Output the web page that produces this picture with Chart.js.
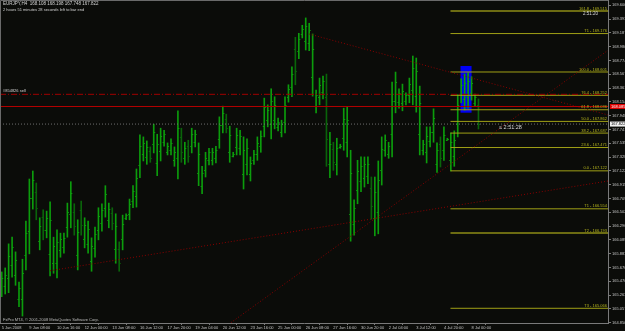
<!DOCTYPE html>
<html lang="en">
<head>
<meta charset="UTF-8">
<title>EURJPY,H4</title>
<script src="https://cdn.jsdelivr.net/npm/chart.js"></script>
<style>
  html, body { margin: 0; padding: 0; background: #0b0c09; }
  canvas { display: block; }
</style>
</head>
<body>
<canvas id="chart" width="625" height="331"></canvas>
<script>
  // EURJPY H4 bars
  const opens = [
    165.35, 165.40, 165.52, 165.71, 165.56, 165.20, 165.21, 165.86, 166.22, 166.72,
    166.80, 166.08, 166.43, 166.24, 165.88, 165.75, 165.74, 165.94, 165.98, 166.28,
    166.48, 166.51, 165.86, 166.54, 166.10, 166.03, 165.77, 165.97, 166.23, 166.34,
    166.57, 166.38, 166.49, 165.96, 165.95, 166.10, 166.42, 166.48, 166.67, 166.75,
    167.21, 167.38, 167.33, 167.42, 167.52, 167.24, 167.42, 167.56, 167.41, 167.43,
    167.28, 167.31, 167.63, 167.32, 167.50, 167.50, 167.56, 167.09, 166.90, 167.14,
    167.29, 167.28, 167.32, 167.60, 167.81, 167.90, 167.41, 167.35, 167.48, 167.47,
    167.08, 167.22, 167.08, 167.28, 167.38, 167.50, 167.80, 167.88, 167.82, 167.89,
    167.78, 167.70, 167.85, 168.23, 168.37, 168.94, 168.91, 169.17, 169.07, 169.04,
    168.52, 168.09, 168.23, 168.30, 168.23, 167.22, 167.45, 167.22, 167.48, 167.62,
    167.56, 166.48, 166.32, 166.83, 166.97, 167.02, 167.05, 166.87, 166.41, 166.51,
    167.13, 167.44, 167.38, 167.67, 168.17, 168.15, 168.14, 168.16, 168.25, 168.33,
    168.24, 167.67, 167.43, 167.40, 167.57, 167.70, 167.23, 167.52, 167.43, 167.59,
    167.29, 167.35, 167.82, 168.25, 168.19, 168.22, 168.29, 168.14, 168.108
  ];
  const highs = [
    165.61, 165.67, 166.03, 166.13, 165.91, 165.46, 165.80, 166.37, 167.00, 167.12,
    166.94, 166.42, 166.54, 166.52, 166.66, 166.13, 166.24, 166.19, 166.19, 166.64,
    166.96, 166.63, 166.39, 166.67, 166.42, 166.37, 166.12, 166.28, 166.57, 166.63,
    166.90, 166.64, 166.57, 166.48, 166.06, 166.46, 166.48, 166.70, 166.90, 167.15,
    167.66, 167.63, 167.57, 167.48, 167.82, 167.67, 167.76, 167.73, 167.54, 167.60,
    167.48, 168.02, 167.76, 167.55, 167.58, 167.76, 167.73, 167.54, 167.19, 167.40,
    167.46, 167.46, 167.49, 167.93, 168.09, 167.97, 167.79, 167.40, 167.76, 167.73,
    167.63, 167.60, 167.33, 167.43, 167.63, 167.72, 168.21, 168.11, 168.35, 168.23,
    167.91, 167.88, 168.23, 168.41, 168.68, 169.12, 169.18, 169.30, 169.41, 169.33,
    169.17, 168.33, 168.51, 168.54, 168.57, 167.70, 167.55, 167.61, 167.52, 168.06,
    168.08, 167.43, 166.69, 167.28, 167.33, 167.33, 167.33, 167.03, 167.03, 167.27,
    167.63, 167.66, 167.55, 168.45, 168.60, 168.35, 168.42, 168.29, 168.51, 168.84,
    168.81, 168.39, 167.58, 167.78, 167.78, 168.05, 167.54, 167.63, 167.78, 167.61,
    167.69, 167.72, 168.26, 168.50, 168.57, 168.59, 168.53, 168.27, 168.198
  ];
  const lows = [
    165.24, 165.28, 165.30, 165.53, 165.41, 165.09, 164.95, 165.64, 165.88, 166.55,
    166.39, 165.94, 166.09, 166.12, 165.55, 165.59, 165.52, 165.83, 165.89, 166.13,
    166.27, 166.16, 165.64, 166.16, 165.97, 165.89, 165.62, 165.83, 166.09, 166.22,
    166.43, 166.27, 166.24, 165.74, 165.62, 165.94, 166.39, 166.39, 166.57, 166.58,
    167.02, 167.27, 167.22, 167.25, 167.39, 167.05, 167.27, 167.49, 167.36, 167.36,
    167.19, 167.00, 167.25, 167.22, 167.25, 167.39, 167.48, 166.90, 166.78, 167.03,
    167.21, 167.21, 167.24, 167.46, 167.69, 167.69, 167.25, 167.33, 167.36, 167.36,
    166.85, 167.06, 166.97, 167.22, 167.28, 167.40, 167.63, 167.78, 167.60, 167.75,
    167.72, 167.63, 167.69, 168.15, 168.23, 168.41, 168.80, 169.11, 168.93, 168.92,
    168.24, 167.99, 168.11, 168.20, 167.19, 167.02, 167.13, 167.06, 167.46, 167.43,
    167.33, 166.07, 166.16, 166.63, 166.81, 166.88, 166.93, 166.40, 166.15, 166.18,
    166.91, 167.34, 167.31, 167.33, 167.99, 168.06, 168.02, 168.11, 168.14, 168.11,
    168.00, 167.36, 167.36, 167.24, 167.48, 167.55, 167.10, 167.18, 167.28, 167.58,
    167.12, 167.19, 167.63, 168.14, 168.03, 168.06, 168.18, 168.09, 167.748
  ];
  const closes = [
    165.52, 165.57, 165.85, 165.98, 165.79, 165.37, 165.59, 166.19, 166.72, 166.98,
    166.56, 166.30, 166.23, 166.42, 166.38, 166.00, 166.06, 166.10, 166.12, 166.51,
    166.79, 166.30, 166.20, 166.31, 166.31, 166.25, 166.00, 166.17, 166.45, 166.53,
    166.78, 166.55, 166.34, 166.30, 165.75, 166.33, 166.46, 166.62, 166.82, 167.01,
    167.50, 167.54, 167.48, 167.32, 167.71, 167.52, 167.64, 167.67, 167.50, 167.54,
    167.41, 167.77, 167.40, 167.47, 167.35, 167.67, 167.67, 167.38, 167.09, 167.31,
    167.40, 167.40, 167.43, 167.81, 167.99, 167.77, 167.66, 167.38, 167.66, 167.64,
    167.44, 167.47, 167.24, 167.38, 167.54, 167.64, 168.07, 168.03, 168.16, 168.11,
    167.86, 167.82, 168.10, 168.35, 168.57, 168.62, 169.09, 169.25, 169.29, 169.23,
    168.94, 168.25, 168.41, 168.46, 167.60, 167.53, 167.26, 167.47, 167.50, 167.90,
    167.89, 167.09, 166.56, 167.12, 167.20, 167.22, 167.23, 166.59, 166.81, 166.99,
    167.45, 167.58, 167.49, 168.17, 168.45, 168.28, 168.32, 168.25, 168.42, 168.66,
    168.61, 168.13, 167.53, 167.65, 167.71, 167.92, 167.43, 167.32, 167.66, 167.60,
    167.55, 167.59, 168.10, 168.41, 168.44, 168.46, 168.44, 168.23, 167.822
  ];

  const timeTickIndex = [0, 8, 16, 24, 32, 40, 48, 56, 64, 72, 80, 88, 96, 104, 112, 120, 128, 136];
  const timeTickLabels = [
    "5 Jun 2008", "9 Jun 08:00", "10 Jun 16:00", "12 Jun 00:00", "13 Jun 08:00", "16 Jun 12:00",
    "17 Jun 20:00", "19 Jun 04:00", "20 Jun 12:00", "23 Jun 16:00", "25 Jun 00:00", "26 Jun 08:00",
    "27 Jun 16:00", "30 Jun 20:00", "2 Jul 04:00", "3 Jul 12:00", "4 Jul 20:00", "8 Jul 00:00"
  ];
  const priceTicks = [
    164.850, 165.057, 165.263, 165.470, 165.676, 165.883, 166.089, 166.296, 166.502, 166.709,
    166.915, 167.122, 167.328, 167.535, 167.741, 167.948, 168.154, 168.361, 168.567, 168.774,
    168.980, 169.187, 169.393, 169.600
  ];

  // Fibonacci expansion drawn from bar 130 to the right edge
  const fibNames = ["161.8", "T1", "100.0", "76.4", "61.8", "50.0", "38.2", "23.6", "0.0", "T1", "T2", "T3"];
  const fibLevels = [169.515, 169.176, 168.601, 168.252, 168.036, 167.862, 167.687, 167.471, 167.122, 166.554, 166.193, 165.066];
  const fibStart = 129.9;

  // trend lines: [startBar, startPrice, endBar, endPrice]
  const trendUpper = [89, 169.169, 175.5, 167.958];
  const trendLower = [14, 165.628, 175.5, 166.970];
  const trendSteep = [60, 164.614, 175.5, 168.926];

  const redLevel = 168.085;
  const orderLevel = 168.267;
  const bidPrice = 167.822;

  // blue box: bars and prices
  const boxBars = [132.8, 136.0];
  const boxPrices = [167.992, 168.691];

  const X_MIN = -0.5, X_MAX = 175.5;
  const FONT = "'Liberation Sans', Arial, sans-serif";
  const UP = '#0c9c0c', DOWN = '#0a640a';

  function hline(level, color, dash, width) {
    return {
      type: 'line',
      data: [{x: X_MIN, y: level}, {x: X_MAX, y: level}],
      borderColor: color, borderWidth: width || 1, borderDash: dash || [],
      pointRadius: 0, fill: false, order: 1
    };
  }
  function seg(t, color) {
    return {
      type: 'line',
      data: [{x: t[0], y: t[1]}, {x: t[2], y: t[3]}],
      borderColor: color, borderWidth: 1, borderDash: [1, 2],
      pointRadius: 0, fill: false, order: 1
    };
  }

  const datasets = [];
  datasets.push(hline(bidPrice, '#6e6e6e', [1, 2]));
  datasets.push(hline(redLevel, '#b40000'));
  datasets.push(hline(orderLevel, '#a00000', [6, 2, 1, 2]));
  datasets.push(seg(trendUpper, '#8a0000'));
  datasets.push(seg(trendLower, '#8a0000'));
  datasets.push(seg(trendSteep, '#8a0000'));
  fibLevels.forEach(function(lv, k) {
    const heavy = fibNames[k] === "161.8" || fibNames[k] === "T2";
    datasets.push({
      type: 'line',
      data: [{x: fibStart, y: lv}, {x: X_MAX, y: lv}],
      borderColor: heavy ? '#6c6c12' : '#a0a016',
      borderWidth: heavy ? 2 : 1,
      pointRadius: 0, fill: false, order: 2
    });
  });
  datasets.push({
    type: 'bar',
    data: highs.map(function(h, i) { return {x: i, y: [lows[i], h]}; }),
    backgroundColor: function(c) { return closes[c.dataIndex] >= opens[c.dataIndex] ? UP : DOWN; },
    barThickness: 1,
    order: 5
  });

  const overlay = {
    id: 'overlay',
    beforeDatasetsDraw(chart) {
      const {ctx, scales: {x, y}} = chart;
      const a = chart.chartArea;
      ctx.save();
      ctx.beginPath();
      ctx.rect(a.left, a.top, a.right - a.left, a.bottom - a.top);
      ctx.clip();
      const bx0 = x.getPixelForValue(boxBars[0]), bx1 = x.getPixelForValue(boxBars[1]);
      const by0 = y.getPixelForValue(boxPrices[1]), by1 = y.getPixelForValue(boxPrices[0]);
      ctx.fillStyle = '#0000f4';
      ctx.fillRect(bx0, by0, bx1 - bx0, by1 - by0);
      // open / close ticks
      for (let i = 0; i < opens.length; i++) {
        const xp = x.getPixelForValue(i);
        ctx.fillStyle = closes[i] >= opens[i] ? UP : DOWN;
        ctx.fillRect(xp - 1.5, Math.round(y.getPixelForValue(opens[i])), 1.5, 1);
        ctx.fillRect(xp, Math.round(y.getPixelForValue(closes[i])), 1.5, 1);
      }
      ctx.restore();
    },
    afterDraw(chart) {
      const {ctx, scales: {y}} = chart;
      const a = chart.chartArea;
      ctx.save();
      // window frame
      ctx.strokeStyle = '#6a6a6a';
      ctx.lineWidth = 1;
      ctx.beginPath();
      ctx.moveTo(0.5, a.bottom); ctx.lineTo(0.5, 0.5); ctx.lineTo(a.right, 0.5);
      ctx.stroke();

      // fib labels
      ctx.textAlign = 'right';
      ctx.textBaseline = 'bottom';
      ctx.font = '4px ' + FONT;
      ctx.fillStyle = '#b4b41e';
      fibLevels.forEach(function(lv, k) {
        ctx.fillText(fibNames[k] + ' - ' + lv.toFixed(3), a.right - 1, y.getPixelForValue(lv) - 0.5);
      });

      // header and texts
      ctx.textAlign = 'left';
      ctx.textBaseline = 'middle';
      ctx.fillStyle = '#d2d2d2';
      ctx.font = '4.5px ' + FONT;
      ctx.fillText('EURJPY,H4  ' + opens[opens.length - 1].toFixed(3) + ' ' + highs[highs.length - 1].toFixed(3) + ' ' +
        lows[lows.length - 1].toFixed(3) + ' ' + closes[closes.length - 1].toFixed(3), 3, 4);
      ctx.font = '4px ' + FONT;
      ctx.fillText('2 hours 51 minutes 28 seconds left to bar end', 3, 9.5);
      ctx.fillText('#854826 sell', 3, y.getPixelForValue(orderLevel) - 3);
      ctx.fillStyle = '#bdbdbd';
      ctx.fillText('FxPro MT4, \u00a9 2001-2008 MetaQuotes Software Corp.', 3, a.bottom - 3);
      ctx.fillStyle = '#d8d8d8';
      ctx.font = '4.5px ' + FONT;
      ctx.fillText('2:51:20', 583, 13.5);
      ctx.font = '5.5px ' + FONT;
      ctx.fillText('\u2264 2:51:28', 499, y.getPixelForValue(bidPrice) + 3);

      // price boxes on the axis
      ctx.font = '4px ' + FONT;
      let yp = y.getPixelForValue(redLevel);
      ctx.fillStyle = '#e00000';
      ctx.fillRect(a.right + 2, yp - 2.5, 16, 5);
      ctx.fillStyle = '#ffffff';
      ctx.fillText(redLevel.toFixed(3), a.right + 3, yp);
      yp = y.getPixelForValue(bidPrice);
      ctx.fillStyle = '#f0f0f0';
      ctx.fillRect(a.right + 2, yp - 2.5, 16, 5);
      ctx.fillStyle = '#000000';
      ctx.fillText(bidPrice.toFixed(3), a.right + 3, yp);
      ctx.restore();
    }
  };

  function tight(w, h) {
    return function(scale) {
      if (w) scale.width = w;
      if (h) scale.height = h;
      scale.paddingTop = 0; scale.paddingBottom = 0;
      scale.paddingLeft = 0; scale.paddingRight = 0;
    };
  }

  new Chart(document.getElementById('chart'), {
    type: 'bar',
    data: { datasets: datasets },
    options: {
      responsive: false,
      devicePixelRatio: 1,
      animation: false,
      events: [],
      layout: { padding: 0 },
      plugins: { legend: { display: false }, tooltip: { enabled: false } },
      scales: {
        x: {
          type: 'linear',
          min: X_MIN, max: X_MAX,
          offset: false,
          afterBuildTicks: function(s) { s.ticks = timeTickIndex.map(function(v) { return {value: v}; }); },
          afterFit: tight(0, 8),
          ticks: {
            autoSkip: false, maxRotation: 0, align: 'start', padding: 0,
            color: '#c4c4c4', font: { family: FONT, size: 4 },
            callback: function(v, i) { return timeTickLabels[i]; }
          },
          grid: { drawOnChartArea: false, tickLength: 2, color: '#7a7a7a' },
          border: { display: true, color: '#7a7a7a' }
        },
        y: {
          type: 'linear',
          position: 'right',
          min: 164.846, max: 169.678,
          afterBuildTicks: function(s) { s.ticks = priceTicks.map(function(v) { return {value: v}; }); },
          afterFit: tight(17, 0),
          ticks: {
            autoSkip: false, padding: 1,
            color: '#c4c4c4', font: { family: FONT, size: 4 },
            callback: function(v) { return v.toFixed(3); }
          },
          grid: { drawOnChartArea: false, tickLength: 3, color: '#7a7a7a' },
          border: { display: true, color: '#7a7a7a' }
        }
      }
    },
    plugins: [overlay]
  });
</script>
</body>
</html>
